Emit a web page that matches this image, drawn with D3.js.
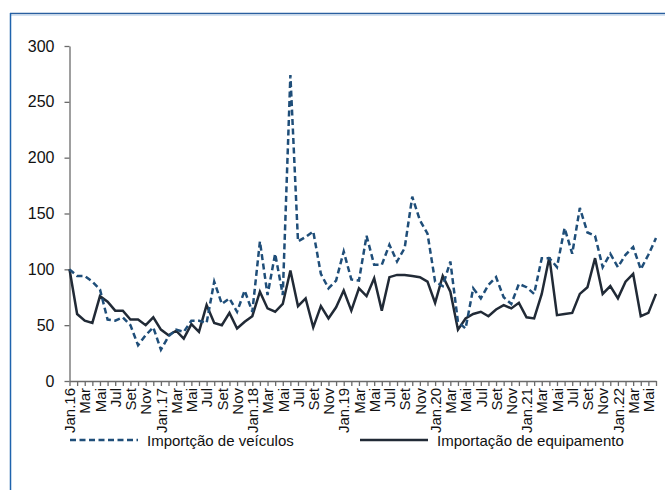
<!DOCTYPE html>
<html>
<head>
<meta charset="utf-8">
<script src="https://cdn.jsdelivr.net/npm/d3@7"></script>
<style>
  body { margin: 0; background: #fff; }
  svg { display: block; font-family: "Liberation Sans", Arial, sans-serif; }
</style>
</head>
<body>
<svg id="chart"></svg>
<script>
/* monthly index values, Jan.16 .. Jun.22 (Jan.16 = 100) */
const veiculos = [
  100, 94, 94, 89, 82, 55, 54, 57, 50, 32, 41, 48,
  28, 40, 46, 44, 54, 54, 52, 89, 69, 74, 62, 81,
  62, 125, 77, 114, 77, 274, 125, 129, 134, 96, 83, 90,
  116, 91, 90, 130, 104, 104, 122, 107, 119, 165, 144, 132,
  89, 85, 107, 53, 47, 83, 74, 86, 93, 75, 69, 87,
  84, 78, 110, 110, 102, 137, 114, 155, 133, 130, 102, 114,
  102, 113, 120, 100, 113, 128
]
const equipamento = [
  100, 60, 54, 52, 76, 71, 63, 63, 55, 55, 50, 57,
  46, 41, 45, 38, 51, 44, 68, 52, 50, 61, 47, 53,
  58, 80, 65, 62, 69, 99, 67, 74, 48, 67, 56, 66,
  81, 63, 83, 76, 92, 63, 93, 95, 95, 94, 93, 89,
  70, 94, 80, 46, 56, 60, 62, 58, 64, 68, 65, 70,
  57, 56, 78, 111, 59, 60, 61, 78, 84, 110, 78, 85,
  74, 89, 96, 58, 61, 78
]
// one label every two months
const tickLabels = [
  'Jan.16', 'Mar', 'Mai', 'Jul', 'Set', 'Nov',
  'Jan.17', 'Mar', 'Mai', 'Jul', 'Set', 'Nov',
  'Jan.18', 'Mar', 'Mai', 'Jul', 'Set', 'Nov',
  'Jan.19', 'Mar', 'Mai', 'Jul', 'Set', 'Nov',
  'Jan.20', 'Mar', 'Mai', 'Jul', 'Set', 'Nov',
  'Jan.21', 'Mar', 'Mai', 'Jul', 'Set', 'Nov',
  'Jan.22', 'Mar', 'Mai'
]
const yTicks = [0, 50, 100, 150, 200, 250, 300]
const seriesNames = ['Importção de veículos', 'Importação de equipamento']

const width = 665, height = 490
const blue = '#1f4e79', dark = '#212a36', axisColor = '#6b6b6b'

const svg = d3.select('#chart')
  .attr('width', width)
  .attr('height', height)

/* FRAME (cropped box) */
svg.append('line')
  .attr('x1', 10).attr('x2', width).attr('y1', 13.5).attr('y2', 13.5)
  .attr('stroke', '#2a5f9f').attr('stroke-width', 1.5)
svg.append('line')
  .attr('x1', 11).attr('x2', width).attr('y1', 15.5).attr('y2', 15.5)
  .attr('stroke', '#d3e2f2').attr('stroke-width', 1)
svg.append('line')
  .attr('x1', 10.5).attr('x2', 10.5).attr('y1', 13).attr('y2', height)
  .attr('stroke', '#1f63ad').attr('stroke-width', 1.5)

/* SCALES */
const x = d3.scaleLinear()
  .domain([0, veiculos.length - 1])
  .range([69.5, 656])

const y = d3.scaleLinear()
  .domain([0, 300])
  .range([381, 46])

/* AXES */
const yAxis = d3.axisLeft(y)
  .tickValues(yTicks)
  .tickSize(5)
  .tickSizeOuter(0)
  .tickPadding(10)

const xAxis = d3.axisBottom(x)
  .tickValues(d3.range(veiculos.length))
  .tickSize(5)
  .tickSizeOuter(0)
  .tickFormat(i => i % 2 === 0 ? tickLabels[i / 2] : '')

const gy = svg.append('g')
  .attr('class', 'axis y')
  .attr('transform', 'translate(69.5, 0)')
  .call(yAxis)
gy.selectAll('text')
  .attr('font-size', 16)
  .attr('font-family', '"Liberation Sans", Arial, sans-serif')
  .attr('fill', '#111')

const gx = svg.append('g')
  .attr('class', 'axis x')
  .attr('transform', 'translate(0, 381)')
  .call(xAxis)
gx.selectAll('text')
  .attr('font-size', 15)
  .attr('font-family', '"Liberation Sans", Arial, sans-serif')
  .attr('fill', '#111')
  .attr('transform', 'rotate(-90)')
  .attr('x', -7)
  .attr('y', 0)
  .attr('dy', '0.35em')
  .style('text-anchor', 'end')

svg.selectAll('.axis path, .axis line')
  .attr('stroke', axisColor)
  .attr('stroke-width', 1.3)

/* LINES */
const line = d3.line()
  .x((d, i) => x(i))
  .y(d => y(d))

svg.append('path')
  .datum(equipamento)
  .attr('d', line)
  .attr('fill', 'none')
  .attr('stroke', dark)
  .attr('stroke-width', 2.5)
  .attr('stroke-linejoin', 'miter')

svg.append('path')
  .datum(veiculos)
  .attr('d', line)
  .attr('fill', 'none')
  .attr('stroke', blue)
  .attr('stroke-width', 2.5)
  .attr('stroke-dasharray', '6,3.5')

/* LEGEND */
const legend = svg.append('g')
const items = [
  { name: seriesNames[0], color: blue, dash: '6,3.5', x0: 70 },
  { name: seriesNames[1], color: dark, dash: null, x0: 360 }
]
items.forEach(it => {
  legend.append('line')
    .attr('x1', it.x0).attr('x2', it.x0 + 68)
    .attr('y1', 440).attr('y2', 440)
    .attr('stroke', it.color)
    .attr('stroke-width', 2.5)
    .attr('stroke-dasharray', it.dash)
  legend.append('text')
    .attr('x', it.x0 + 77)
    .attr('y', 445.5)
    .attr('font-size', 15)
    .attr('fill', '#111')
    .text(it.name)
})
</script>
</body>
</html>
